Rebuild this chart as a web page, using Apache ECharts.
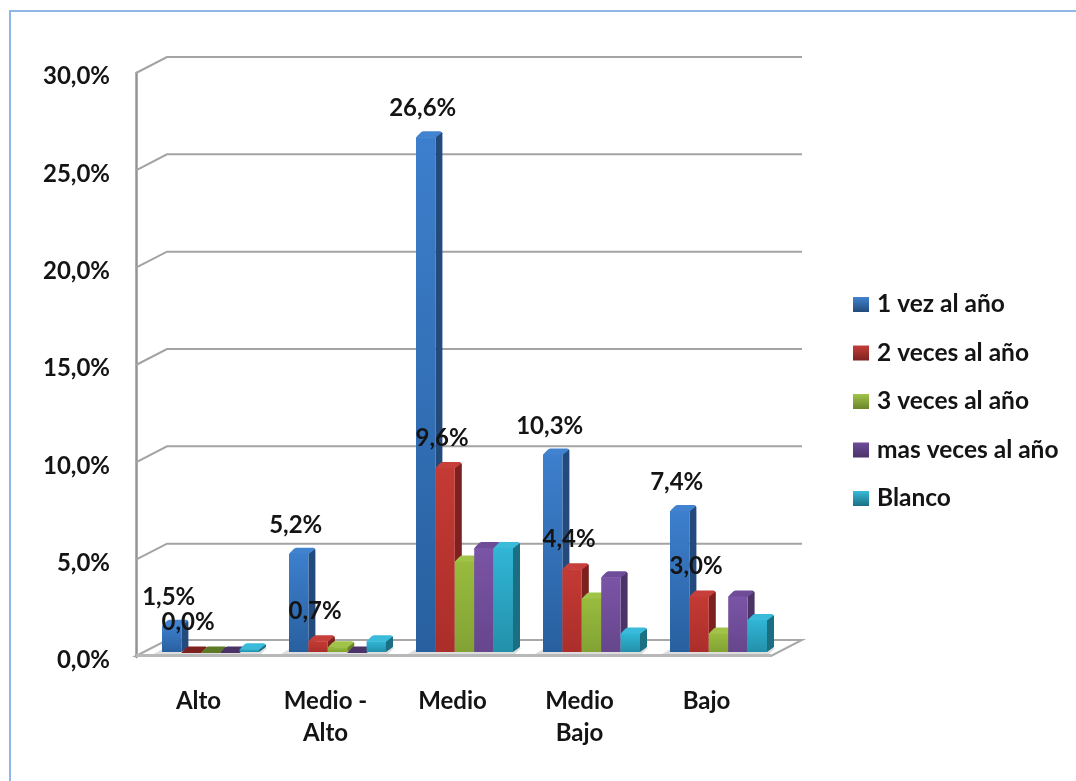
<!DOCTYPE html>
<html>
<head>
<meta charset="utf-8">
<style>html,body{margin:0;padding:0;background:#fff}#c{width:1076px;height:781px;filter:blur(0.4px)}</style>
<script src="https://cdn.jsdelivr.net/npm/echarts@6/dist/echarts.min.js"></script>
</head>
<body>
<div id="c"></div>
<script>
const categories = ['Alto', 'Medio -\nAlto', 'Medio', 'Medio\nBajo', 'Bajo'];
const yTicks = [0, 5, 10, 15, 20, 25, 30];
const seriesNames = ['1 vez al año', '2 veces al año', '3 veces al año', 'mas veces al año', 'Blanco'];
const unaVez = [1.5, 5.2, 26.6, 10.3, 7.4];
const dosVeces = [0.0, 0.7, 9.6, 4.4, 3.0];
const tresVeces = [0.0, 0.4, 4.8, 2.9, 1.1];
const masVeces = [0.0, 0.1, 5.5, 4.0, 3.0];
const blanco = [0.3, 0.7, 5.5, 1.1, 1.8];
const seriesValues = [unaVez, dosVeces, tresVeces, masVeces, blanco];
const labelled = [true, true, false, false, false];
const labelLift = [28, 29.5, 0, 0, 0];

const palettes = [
  {hi:'#3d7fcd', lo:'#28609f', side:'#234a7c', top:'#4283d0', flat:'#234a7c'},
  {hi:'#c43a34', lo:'#ab2e2b', side:'#7c2120', top:'#c63f3a', flat:'#7c2120'},
  {hi:'#98bb3e', lo:'#82a334', side:'#6a8529', top:'#a2c34a', flat:'#5f7a26'},
  {hi:'#7a54a6', lo:'#66468c', side:'#4b3368', top:'#6f4c98', flat:'#4b3368'},
  {hi:'#31b6d6', lo:'#2390aa', side:'#1a6f83', top:'#39bbd9', flat:'#1a6f83'}
];
const FONT = 'Lato';
const FONT_SIZE = 24;
const LEGEND_SIZE = 24.5;
const FONT_WEIGHT = 700;
const TXT = '#141414';
const DEPTH_X = 31, DEPTH_Y = 16;      // wall / floor depth
const BAR_DX = 7, BAR_DY = 5, BASE_UP = 5, TOP_UP = 2.5;
const BAR_W = 19.4 / 127, GROUP_START = -37.5 / 127;
const fmt = v => v.toFixed(1).replace('.', ',') + '%';
const grad = (a, b) => new echarts.graphic.LinearGradient(0, 0, 0, 1, [{offset:0, color:a}, {offset:1, color:b}]);

function wallItem(params, api) {
  const cs = params.coordSys;
  const y = api.coord([0, api.value(1)])[1];
  const L = cs.x, R = cs.x + cs.width;
  return {type:'polyline', shape:{points:[[L, y], [L + DEPTH_X, y - DEPTH_Y], [R + DEPTH_X, y - DEPTH_Y]]},
    style:{fill:'none', stroke:'#a3a3a3', lineWidth:2}, silent:true};
}
function floorItem(params, api) {
  const cs = params.coordSys;
  const y = cs.y + cs.height - 1;
  const L = cs.x, R = cs.x + cs.width;
  return {type:'group', silent:true, children:[
    {type:'polygon', shape:{points:[[L, y], [L + DEPTH_X, y - DEPTH_Y], [R + DEPTH_X, y - DEPTH_Y], [R, y]]},
     style:{fill:'#ffffff', stroke:'#a8a8a8', lineWidth:2}},
    {type:'rect', shape:{x:L, y:y - 2, width:R - L, height:3}, style:{fill:'#b8b8b8'}}
  ]};
}
function shadowItem(params, api) {
  const c = api.coord([api.value(0), 0]);
  const band = api.size([1, 0])[0];
  const x0 = c[0] + band * GROUP_START - 8, x1 = x0 + band * BAR_W * 5 + 10;
  const y = c[1] - 3;
  return {type:'polygon', shape:{points:[[x0, y], [x0 + 10, y - 6], [x1 + 6, y - 6], [x1, y]]},
    style:{fill:'#dedede'}, silent:true};
}
function barItem(s) {
  return function (params, api) {
    const i = api.value(0), v = api.value(1);
    const base = api.coord([i, 0]);
    const band = api.size([1, 0])[0];
    const w = band * BAR_W;
    const x = base[0] + band * (GROUP_START + s * BAR_W);
    const yB = base[1] - BASE_UP;
    const yT = Math.min(api.coord([i, v])[1] - TOP_UP, yB);
    const p = palettes[s];
    const xr = x + w, yc = yT - BAR_DY;
    const kids = [
      {type:'polygon', shape:{points:[[xr, yT], [xr + BAR_DX - 1, yc], [xr + BAR_DX, yc + 1.5], [xr + BAR_DX, yB - BAR_DY], [xr, yB]]},
       style:{fill:p.side}},
      {type:'polygon', shape:{points:[[x, yT + 1], [x + 1.5, yT - 1], [x + BAR_DX - 2, yc + 0.5], [x + BAR_DX, yc - 0.5], [xr + BAR_DX - 2, yc - 0.5], [xr + BAR_DX - 0.5, yc + 1], [xr, yT + 1]]},
       style:{fill:v < 0.15 ? p.flat : p.top}},
      {type:'rect', shape:{x:x, y:yT + 0.5, width:w, height:Math.max(yB - yT - 0.5, 0)}, style:{fill:grad(p.hi, p.lo)}}
    ];
    if (labelled[s]) {
      kids.push({type:'text', z2:50, style:{text:fmt(v), x:x + w / 2 - 3, y:yT - labelLift[s], align:'center', verticalAlign:'middle',
        font:FONT_WEIGHT + ' ' + FONT_SIZE + 'px ' + FONT, fill:TXT}});
    }
    return {type:'group', children:kids};
  };
}

const series = [
  {type:'custom', name:'_floor', data:[[0, 0]], renderItem:floorItem, clip:false, z:1, silent:true, encode:{x:0, y:1}},
  {type:'custom', name:'_walls', data:yTicks.slice(1).map(t => [0, t]), renderItem:wallItem, clip:false, z:1, silent:true, encode:{x:0, y:1}},
  {type:'custom', name:'_shadow', data:categories.map((c, i) => [i, 0]), renderItem:shadowItem, clip:false, z:1, silent:true, encode:{x:0, y:1}}
];
seriesNames.forEach((n, s) => {
  series.push({type:'custom', name:n, renderItem:barItem(s), clip:false, z:3,
    itemStyle:{color:palettes[s].hi}, encode:{x:0, y:1},
    data:seriesValues[s].map((v, i) => [i, v])});
});

const chart = echarts.init(document.getElementById('c'), null, {renderer:'canvas'});
chart.setOption({
  animation:false,
  backgroundColor:'#ffffff',
  textStyle:{fontFamily:FONT},
  graphic:[{type:'rect', z:0, silent:true, shape:{x:10, y:11, width:1400, height:1000},
    style:{fill:'none', stroke:'#8fb6e6', lineWidth:2}}],
  grid:{left:136, right:305, top:73, bottom:124, containLabel:false},
  xAxis:{type:'category', data:categories, boundaryGap:true,
    axisLine:{show:false}, axisTick:{show:false}, splitLine:{show:false},
    axisLabel:{interval:0, margin:28, fontFamily:FONT, fontSize:FONT_SIZE, fontWeight:FONT_WEIGHT, color:TXT, lineHeight:32, padding:[0,2,0,0]}},
  yAxis:{type:'value', min:0, max:30, interval:5,
    axisLine:{show:true, lineStyle:{color:'#949494', width:2.5}}, axisTick:{show:false}, splitLine:{show:false},
    axisLabel:{margin:26, fontFamily:FONT, fontSize:FONT_SIZE, fontWeight:FONT_WEIGHT, color:TXT, formatter:fmt, verticalAlign:'top', lineHeight:7}},
  legend:{orient:'vertical', left:848, top:287, itemWidth:16, itemHeight:15, itemGap:23.5,
    selectedMode:false, icon:'rect',
    textStyle:{fontFamily:FONT, fontSize:LEGEND_SIZE, fontWeight:FONT_WEIGHT, color:TXT, lineHeight:20, padding:[0,0,0,3]},
    data:seriesNames.map((n, s) => ({name:n, itemStyle:{color:grad(palettes[s].top, palettes[s].side)}}))},
  series:series
});
</script>
</body>
</html>
